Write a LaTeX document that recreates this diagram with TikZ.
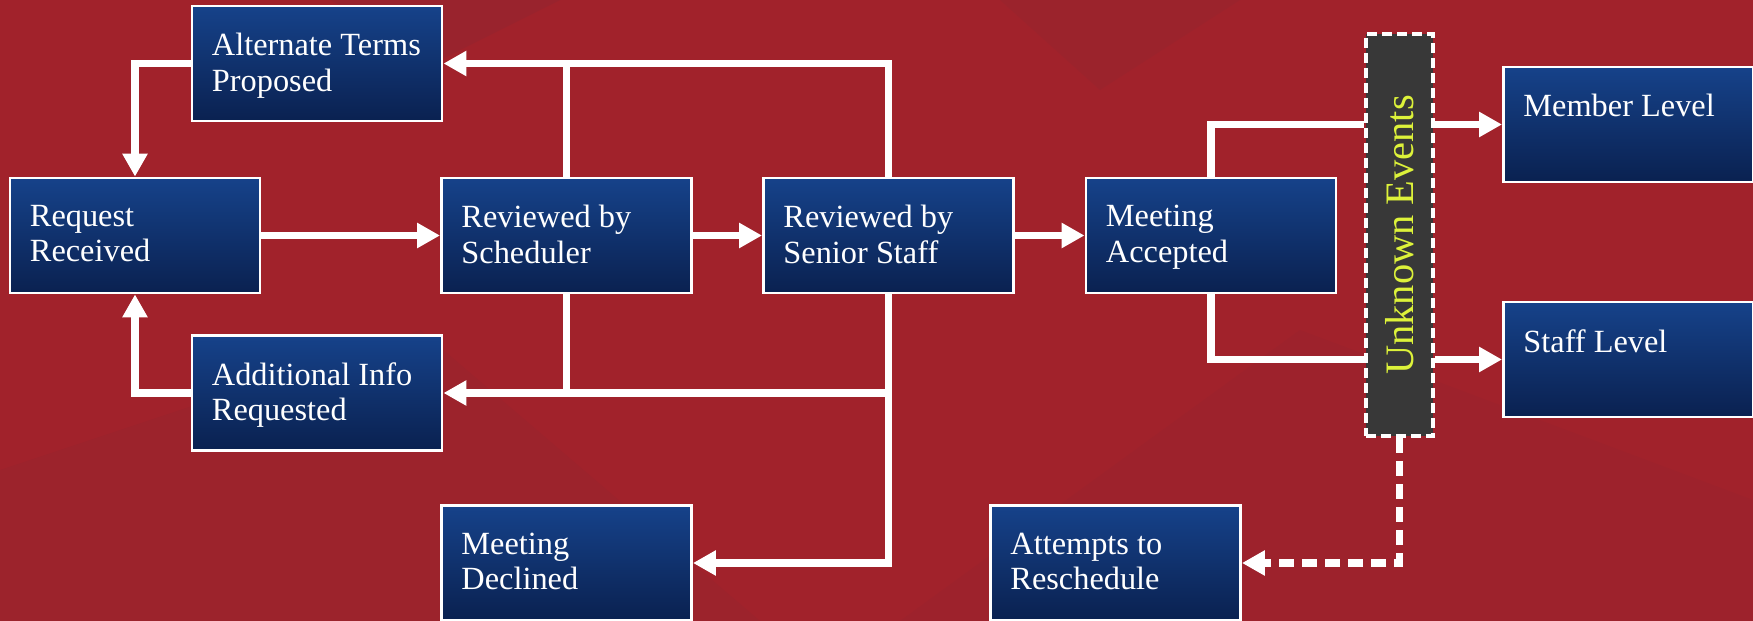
\documentclass[tikz,border=0pt]{standalone}
\usepackage{fontspec}
\setmainfont{Liberation Serif}
\usetikzlibrary{arrows.meta}

\definecolor{bgred}{HTML}{A1222B}
\definecolor{bgdark}{HTML}{94252F}
\definecolor{boxtop}{HTML}{16428A}
\definecolor{boxbot}{HTML}{0A2150}
\definecolor{evgray}{HTML}{383838}
\definecolor{evtext}{HTML}{DDF23A}

\newcommand{\steptext}[1]{\parbox[c][0.6cm][t]{2.1cm}{\raggedright #1}}

\tikzset{
  stepbox/.style={draw=white, line width=0.8pt, top color=boxtop, bottom color=boxbot,
    minimum width=2.5cm, minimum height=1.15cm, inner sep=0pt, text=white,
    font=\fontsize{9.2}{10}\selectfont},
  eventbox/.style={draw=white, fill=evgray, line width=1.3pt, dash pattern=on 0.1cm off 0.05cm,
    minimum width=0.67cm, minimum height=4.02cm, inner sep=0pt, text=evtext,
    font=\fontsize{11.5}{12}\selectfont},
  wire/.style={white, line width=2.1pt},
  flow/.style={wire, -{Triangle[length=0.23cm,width=0.24cm]}},
  maybeflow/.style={flow, dash pattern=on 0.15cm off 0.08cm}
}

\begin{document}
\begin{tikzpicture}[x=0.01cm, y=-0.01cm]
  \useasboundingbox (0,0) rectangle (1753,621);

  % Background
  \fill[bgred] (0,0) rectangle (1753,621);
  \fill[bgdark, opacity=0.6] (330,0) -- (560,0) -- (440,60) -- cycle;
  \fill[bgdark, opacity=0.35] (0,621) -- (0,470) -- (420,330) -- (760,621) -- cycle;
  \fill[bgdark, opacity=0.3] (900,621) -- (1300,330) -- (1753,500) -- (1753,621) -- cycle;
  \fill[bgdark, opacity=0.4] (1000,0) -- (1240,0) -- (1100,90) -- cycle;

  % Steps
  \node[stepbox] (alt) at (317,63.5) {\steptext{Alternate Terms\\Proposed}};
  \node[stepbox] (req) at (135,235.5) {\steptext{Request\\Received}};
  \node[stepbox] (sched) at (566.5,235.5) {\steptext{Reviewed by\\Scheduler}};
  \node[stepbox] (senior) at (888.5,235.5) {\steptext{Reviewed by\\Senior Staff}};
  \node[stepbox] (accept) at (1211,235.5) {\steptext{Meeting\\Accepted}};
  \node[stepbox] (info) at (317,393) {\steptext{Additional Info\\Requested}};
  \node[stepbox] (decl) at (566.5,563) {\steptext{Meeting\\Declined}};
  \node[stepbox] (resched) at (1115.5,563) {\steptext{Attempts to\\Reschedule}};
  \node[stepbox] (member) at (1628.5,124.5) {\steptext{Member Level}};
  \node[stepbox] (staffl) at (1628.5,359.5) {\steptext{Staff Level}};

  % Unknown events
  \node[eventbox] (unknown) at (1399.5,235) {\rotatebox{90}{Unknown Events}};

  % Main line
  \draw[flow] (req.east) -- (sched.west);
  \draw[flow] (sched.east) -- (senior.west);
  \draw[flow] (senior.east) -- (accept.west);

  % Back to request
  \draw[flow] (alt.west) -| (req.north);
  \draw[flow] (info.west) -| (req.south);

  % From the reviews
  \draw[wire] (sched.north) -- (sched.north |- alt.east);
  \draw[flow] (senior.north) |- (alt.east);
  \draw[wire] (sched.south) -- (sched.south |- info.east);
  \draw[flow] (senior.south |- info.east) -- (info.east);
  \draw[flow] (senior.south) |- (decl.east);

  % After acceptance
  \draw[wire] (accept.north) |- (unknown.west |- member.west);
  \draw[wire] (accept.south) |- (unknown.west |- staffl.west);
  \draw[flow] (unknown.east |- member.west) -- (member.west);
  \draw[flow] (unknown.east |- staffl.west) -- (staffl.west);
  \draw[maybeflow] (unknown.south) |- (resched.east);
\end{tikzpicture}
\end{document}
